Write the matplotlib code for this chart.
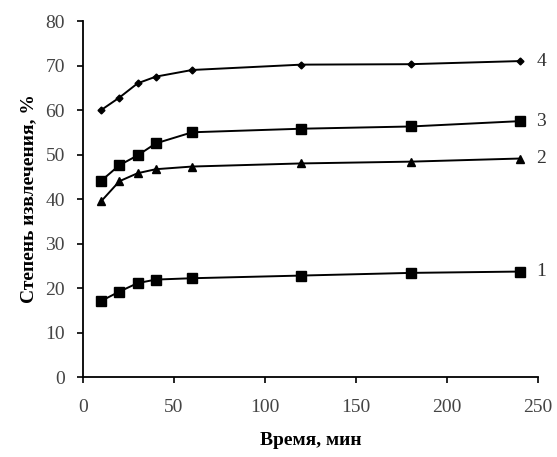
import matplotlib
matplotlib.use("Agg")
import matplotlib.pyplot as plt

# время, мин
t = [10, 20, 30, 40, 60, 120, 180, 240]

# степень извлечения, % (кривые 1-4)
s1 = [17.1, 19.2, 21.1, 21.9, 22.2, 22.8, 23.4, 23.7]
s2 = [39.5, 44.0, 45.8, 46.7, 47.3, 48.0, 48.4, 49.1]
s3 = [44.1, 47.6, 49.8, 52.5, 55.0, 55.8, 56.3, 57.5]
s4 = [60.0, 62.8, 66.0, 67.5, 69.0, 70.2, 70.3, 71.0]

labels = ["1", "2", "3", "4"]

plt.rcParams['font.family'] = ['Liberation Serif', 'DejaVu Serif']

fig = plt.figure(figsize=(5.57, 4.57), dpi=100)
ax = fig.add_axes([0.149, 0.175, 0.817, 0.779])

ax.plot(t, s1, color='black', lw=1.4, marker='s', ms=6.5)
ax.plot(t, s2, color='black', lw=1.4, marker='^', ms=6)
ax.plot(t, s3, color='black', lw=1.4, marker='s', ms=7)
ax.plot(t, s4, color='black', lw=1.4, marker='D', ms=3.5)

for s, lab in zip([s1, s2, s3, s4], labels):
    ax.annotate(lab, (t[-1], s[-1]), xytext=(12, 0), textcoords='offset points',
                va='center', ha='left', fontsize=14, color='#333333',
                annotation_clip=False)

ax.set_xlim(0, 250)
ax.set_ylim(0, 80)
ax.set_xticks(range(0, 251, 50))
ax.set_yticks(range(0, 81, 10))

ax.spines['top'].set_visible(False)
ax.spines['right'].set_visible(False)
ax.spines['left'].set_linewidth(1.3)
ax.spines['bottom'].set_linewidth(1.3)
ax.tick_params(direction='out', length=4, width=1.2, labelsize=14, colors='black',
               labelcolor='#444444')
ax.tick_params(axis='x', pad=12)
ax.tick_params(axis='y', pad=9)

ax.set_xlabel('Время, мин', fontsize=14, fontweight='bold', labelpad=11)
ax.set_ylabel('Степень извлечения, %', fontsize=14, fontweight='bold', labelpad=6)

fig.savefig('out.png', dpi=100)
